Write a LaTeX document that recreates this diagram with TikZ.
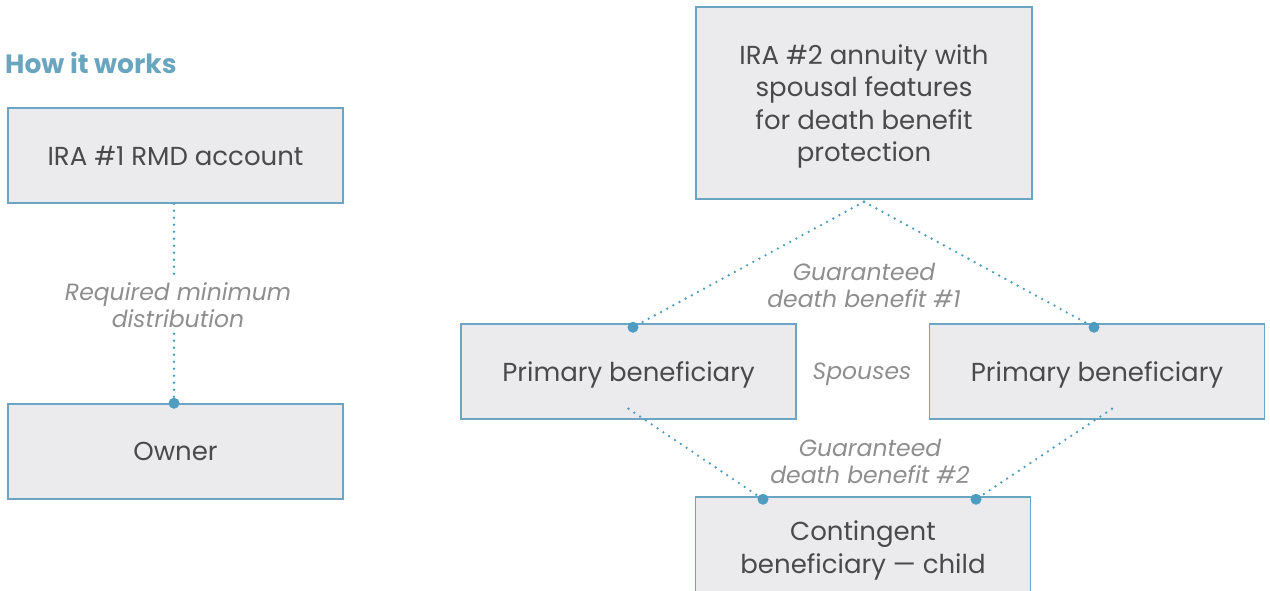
\documentclass[tikz,border=0pt]{standalone}
\usepackage{fontspec}
\setmainfont{Poppins}
\usetikzlibrary{calc}
\definecolor{boxfill}{HTML}{EBEBEE}
\definecolor{boxline}{HTML}{6AA6C4}
\definecolor{txt}{HTML}{4A4A4C}
\definecolor{note}{HTML}{8E8E8E}
\definecolor{dotc}{HTML}{4E9CC0}
\definecolor{head}{HTML}{6AA5BF}
\begin{document}
\begin{tikzpicture}[x=1pt,y=-1pt,
  box/.style={draw=boxline, fill=boxfill, line width=1.5pt, inner sep=0pt,
    text depth=0pt, align=center, text=txt, font=\fontsize{26}{32.3}\selectfont},
  note/.style={align=center, text=note, inner sep=6pt,
    font=\fontsize{23.5}{27}\itshape\selectfont},
  link/.style={draw=dotc, line width=2.6pt, line cap=round,
    dash pattern=on 0pt off 7pt},
  pin/.style={fill=dotc, draw=none}
]
\useasboundingbox (0,0) rectangle (1270,590);
\clip (0,0) rectangle (1270,590);

% heading
\node[anchor=west, inner sep=0pt, text=head,
  font=\fontsize{26.5}{30}\bfseries\selectfont] (title) at (5,63) {How it works};

% left column
\node[box, minimum width=335pt, minimum height=95pt] (ira1) at (175.5,155.5) {IRA \#1 RMD account};
\node[box, minimum width=335pt, minimum height=95pt] (owner) at (175.5,451.5) {Owner};
\node[note] (rmd) at (178,305) {Required minimum\\distribution};

\coordinate (ira1-out) at ([xshift=-1.5pt]ira1.south);
\coordinate (owner-in) at ([xshift=-1.5pt]owner.north);
\path[link] (ira1-out) -- (ira1-out |- rmd.north);
\path[link] (owner-in |- rmd.south) -- (owner-in);
\fill[pin] (owner-in) circle (5.5pt);

% right side
\node[box, minimum width=336pt, minimum height=192pt] (ira2) at (864,103)
  {IRA \#2 annuity with\\spousal features\\for death benefit\\protection};
\node[box, minimum width=335pt, minimum height=95pt] (pl) at (628.5,371.5) {Primary beneficiary};
\node[box, minimum width=335pt, minimum height=95pt] (pr) at (1097,371.5) {Primary beneficiary};
\node[box, minimum width=335pt, minimum height=100pt] (child) at (863,547)
  {Contingent\\beneficiary — child};

\node[note] (gdb1) at (864,285) {Guaranteed\\death benefit \#1};
\node[note] (sp) at (862,374) {Spouses};
\node[note] (gdb2) at (870,461) {Guaranteed\\death benefit \#2};

% connector ends (canvas yshift points up)
\coordinate (ira2-out) at ([yshift=-2pt]ira2.south);
\coordinate (pl-in) at ([xshift=4.5pt,yshift=-4pt]pl.north);
\coordinate (pr-in) at ([xshift=-3pt,yshift=-4pt]pr.north);
\coordinate (pl-out) at ([yshift=11pt]pl.south);
\coordinate (pr-out) at ([xshift=15pt,yshift=11pt]pr.south);
\coordinate (child-l) at ([xshift=-100pt,yshift=-3pt]child.north);
\coordinate (child-r) at ([xshift=113pt,yshift=-3pt]child.north);

\path[link] (ira2-out) -- (pl-in);
\path[link] (ira2-out) -- (pr-in);
\path[link] (pl-out) -- (child-l);
\path[link] (pr-out) -- (child-r);
\foreach \p in {pl-in, pr-in, child-l, child-r} \fill[pin] (\p) circle (5.5pt);
\end{tikzpicture}
\end{document}
